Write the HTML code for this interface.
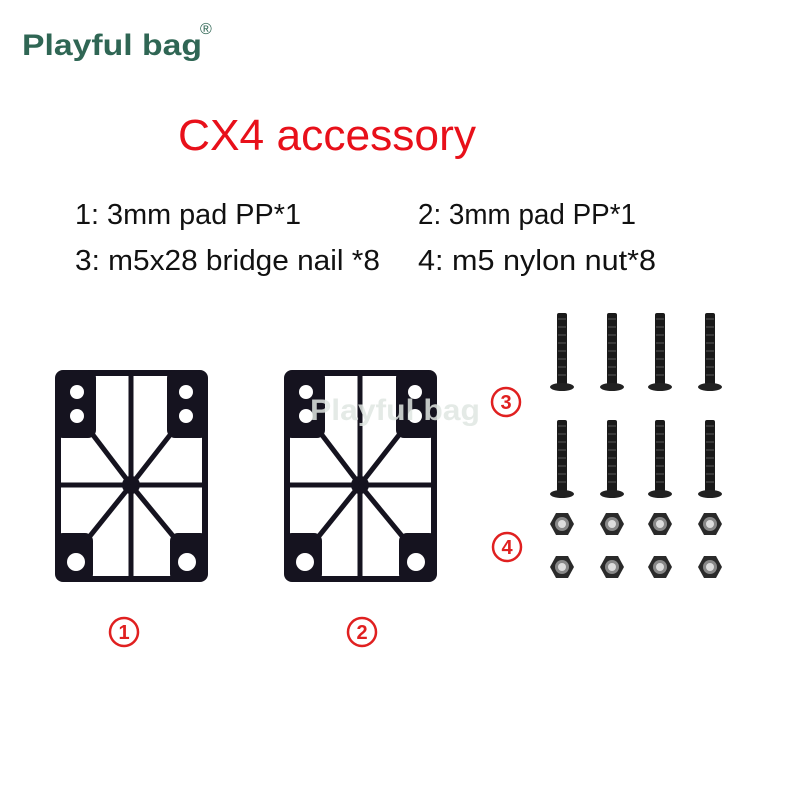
<!DOCTYPE html>
<html><head><meta charset="utf-8"><style>html,body{margin:0;padding:0;background:#fff}svg{display:block}</style></head>
<body>
<svg width="800" height="800" viewBox="0 0 800 800" xmlns="http://www.w3.org/2000/svg" font-family="Liberation Sans, sans-serif">
<rect width="800" height="800" fill="#fff"/>
<text x="22" y="55" font-size="30" font-weight="bold" fill="#2f6654" textLength="180" lengthAdjust="spacingAndGlyphs">Playful bag</text>
<text x="200" y="34" font-size="16" fill="#2f6654">®</text>
<text x="178" y="150" font-size="44" fill="#e8101a" textLength="298" lengthAdjust="spacingAndGlyphs">CX4 accessory</text>
<g font-size="29" fill="#111">
<text x="75" y="224" textLength="226" lengthAdjust="spacingAndGlyphs">1: 3mm pad PP*1</text>
<text x="418" y="224" textLength="218" lengthAdjust="spacingAndGlyphs">2: 3mm pad PP*1</text>
<text x="75" y="270" textLength="305" lengthAdjust="spacingAndGlyphs">3: m5x28 bridge nail *8</text>
<text x="418" y="270" textLength="238" lengthAdjust="spacingAndGlyphs">4: m5 nylon nut*8</text>
</g>
<defs>
<g id="pad">
<rect x="0" y="0" width="153" height="212" rx="12" fill="#15131f"/>
<rect x="6" y="6" width="141" height="200" fill="#fff"/>
<g fill="#15131f">
<rect x="0" y="0" width="41" height="68" rx="8"/>
<rect x="112" y="0" width="41" height="68" rx="8"/>
<rect x="0" y="163" width="38" height="49" rx="8"/>
<rect x="115" y="163" width="38" height="49" rx="8"/>
<rect x="73.5" y="0" width="5" height="212"/>
<rect x="0" y="112.5" width="153" height="5"/>
<circle cx="76" cy="115" r="9"/>
</g>
<g stroke="#15131f" stroke-width="5">
<line x1="76" y1="115" x2="38" y2="65"/>
<line x1="76" y1="115" x2="115" y2="65"/>
<line x1="76" y1="115" x2="35" y2="166"/>
<line x1="76" y1="115" x2="118" y2="166"/>
</g>
<g fill="#fff">
<circle cx="22" cy="22" r="7"/><circle cx="22" cy="46" r="7"/>
<circle cx="131" cy="22" r="7"/><circle cx="131" cy="46" r="7"/>
<circle cx="21" cy="192" r="9"/><circle cx="132" cy="192" r="9"/>
</g>
</g>
<g id="screw">
<rect x="-5" y="0" width="10" height="72" rx="2" fill="#1a1a1a"/>
<path d="M-4,6 h8 M-4,14 h8 M-4,22 h8 M-4,30 h8 M-4,38 h8 M-4,46 h8 M-4,54 h8 M-4,62 h8" stroke="#555" stroke-width="1"/>
<ellipse cx="0" cy="74" rx="12" ry="4" fill="#222"/>
</g>
<g id="nut">
<polygon points="-12,0 -6,-11 6,-11 12,0 6,11 -6,11" fill="#2a2a2a"/>
<circle r="7" fill="#888"/><circle r="4" fill="#ddd"/>
</g>
</defs>
<use href="#pad" x="55" y="370"/>
<use href="#pad" x="284" y="370"/>
<text x="310" y="420" font-size="30" font-weight="bold" fill="#dfe6e2" fill-opacity="0.85" textLength="170" lengthAdjust="spacingAndGlyphs">Playful bag</text>
<g>
<use href="#screw" x="562" y="313"/><use href="#screw" x="612" y="313"/><use href="#screw" x="660" y="313"/><use href="#screw" x="710" y="313"/>
<use href="#screw" x="562" y="420"/><use href="#screw" x="612" y="420"/><use href="#screw" x="660" y="420"/><use href="#screw" x="710" y="420"/>
<use href="#nut" x="562" y="524"/><use href="#nut" x="612" y="524"/><use href="#nut" x="660" y="524"/><use href="#nut" x="710" y="524"/>
<use href="#nut" x="562" y="567"/><use href="#nut" x="612" y="567"/><use href="#nut" x="660" y="567"/><use href="#nut" x="710" y="567"/>
</g>
<g fill="none" stroke="#e02020" stroke-width="2.5">
<circle cx="124" cy="632" r="14"/><circle cx="362" cy="632" r="14"/>
<circle cx="506" cy="402" r="14"/><circle cx="507" cy="547" r="14"/>
</g>
<g font-size="20" font-weight="bold" fill="#e02020" text-anchor="middle">
<text x="124" y="639">1</text><text x="362" y="639">2</text>
<text x="506" y="409">3</text><text x="507" y="554">4</text>
</g>
</svg>
</body></html>
